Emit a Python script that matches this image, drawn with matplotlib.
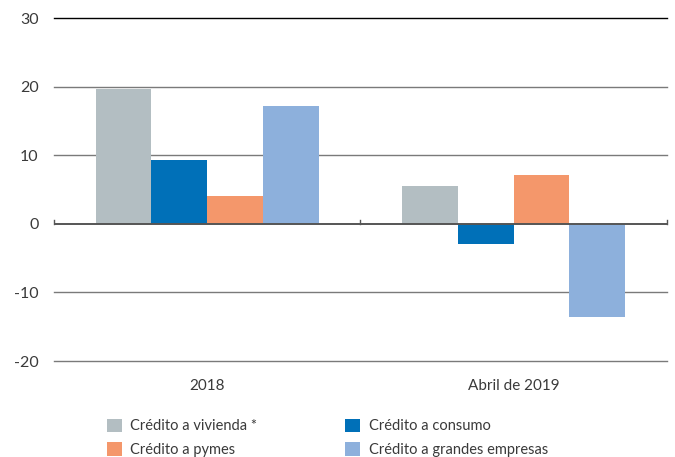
#!/usr/bin/env python3
"""Crecimiento del crédito por tipo: 2018 vs abril de 2019."""

import matplotlib
matplotlib.use("Agg")
import matplotlib.pyplot as plt
from matplotlib.patches import Patch
import numpy as np

periods = ["2018", "Abril de 2019"]
series = [
    "Crédito a vivienda *",
    "Crédito a consumo",
    "Crédito a pymes",
    "Crédito a grandes empresas",
]
values = {
    "Crédito a vivienda *": [19.6, 5.5],
    "Crédito a consumo": [9.25, -3.0],
    "Crédito a pymes": [4.1, 7.15],
    "Crédito a grandes empresas": [17.15, -13.6],
}
colors = ["#b3bec2", "#0070b8", "#f4976b", "#8db0dc"]
yticks = [-20, -10, 0, 10, 20, 30]

plt.rcParams["font.family"] = ["Lato", "DejaVu Sans"]
text_color = "#3a3a3a"

fig = plt.figure(figsize=(6.75, 4.57), dpi=100)
ax = fig.add_axes([0.08, 0.21, 0.908, 0.7506])

x = np.arange(len(periods))
width = 0.182
for i, name in enumerate(series):
    offset = (i - 1.5) * width
    ax.bar(x + offset, values[name], width, color=colors[i], zorder=3,
           edgecolor="none")

ax.set_xlim(-0.5, 1.5)
ax.set_ylim(-20, 30)

# horizontal grid
for y in yticks:
    if y == 30:
        ax.axhline(y, color="black", lw=1.0, zorder=1, clip_on=False)
    elif y == 0:
        ax.axhline(y, color="#555555", lw=1.4, zorder=4)
    else:
        ax.axhline(y, color="#7a7a7a", lw=1.0, zorder=1, clip_on=False)

# small separator ticks on the zero line
for xs in [-0.5, 0.5, 1.5]:
    ax.plot([xs, xs], [0, 0.6], color="#555555", lw=1.0, zorder=4,
            clip_on=False)

for s in ax.spines.values():
    s.set_visible(False)

ax.set_yticks(yticks)
ax.set_yticklabels([str(v) for v in yticks], fontsize=11.5, color=text_color)
ax.tick_params(axis="y", length=0, pad=11)
ax.set_xticks(x)
ax.set_xticklabels(periods, fontsize=11, color=text_color)
ax.tick_params(axis="x", length=0, pad=13)

handles = [Patch(facecolor=c, edgecolor="none") for c in colors]
order = [0, 2, 1, 3]
leg = fig.legend(
    [handles[i] for i in order],
    [series[i] for i in order],
    ncol=2,
    loc="upper left",
    bbox_to_anchor=(0.158, 0.084),
    frameon=False,
    fontsize=10.5,
    handlelength=1.03,
    handleheight=1.03,
    handletextpad=0.6,
    columnspacing=6.0,
    labelspacing=0.62,
    borderaxespad=0,
    borderpad=0,
)
for t in leg.get_texts():
    t.set_color(text_color)

fig.savefig("out.png", dpi=100)
